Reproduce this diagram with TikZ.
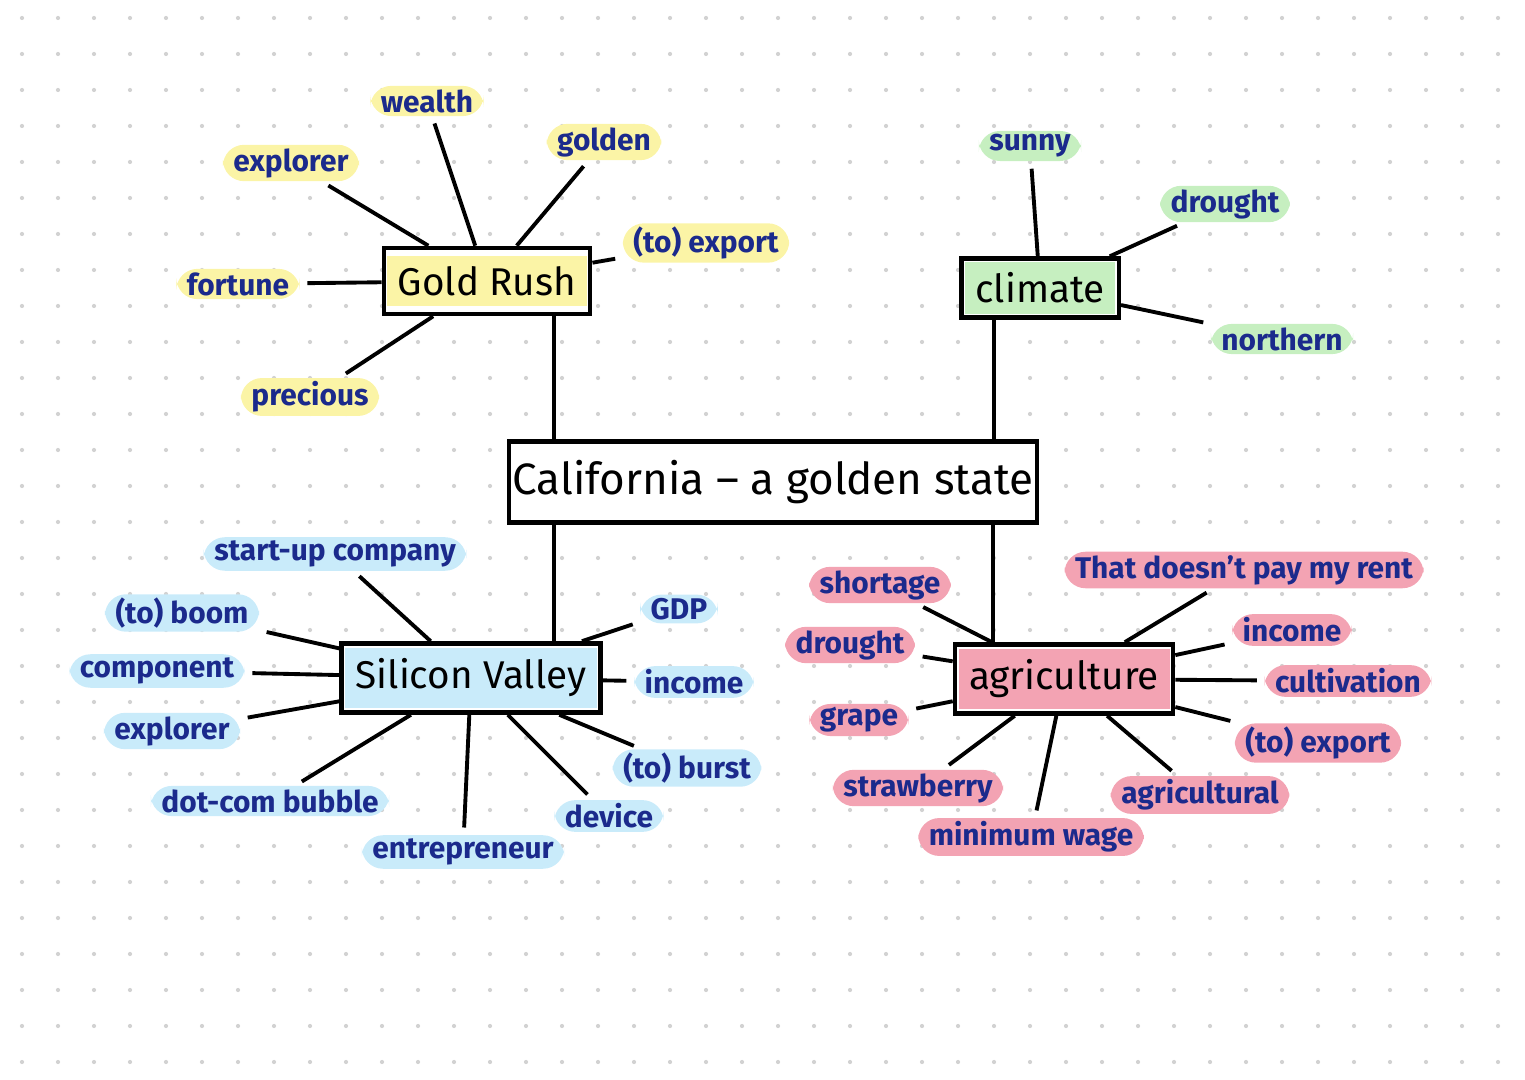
\documentclass[tikz,border=0pt]{standalone}
\usepackage{fontspec}
\setmainfont{Fira Sans}
\usetikzlibrary{positioning}
\definecolor{ink}{HTML}{1B2A8C}
\definecolor{hlyellow}{HTML}{FBF4A6}
\definecolor{hlgreen}{HTML}{C6EFC0}
\definecolor{hlblue}{HTML}{C9EBFA}
\definecolor{hlpink}{HTML}{F3A3B3}
\tikzset{
  topic/.style={draw, line width=1.3pt, fill=white, inner sep=1pt, font=\fontsize{11}{13}\selectfont},
  word/.style={rounded corners=6pt, inner xsep=3pt, inner ysep=1pt, text=ink, font=\fontsize{8.5}{10}\selectfont\bfseries},
  gold/.style={word, fill=hlyellow},
  clim/.style={word, fill=hlgreen},
  silic/.style={word, fill=hlblue},
  agri/.style={word, fill=hlpink},
  link/.style={line width=1.1pt, shorten <=2pt},
}
\begin{document}
\begin{tikzpicture}[x=0.01cm,y=-0.01cm]
	\useasboundingbox (0,0) rectangle (1525,1080);
	% ---------------------
	% dotted paper
	\foreach \i in {0,...,41}{
		\foreach \j in {0,...,29}{
			\fill[gray!35] (22+36*\i,18+36*\j) circle (0.6pt);
		}
	}
	
	% ---------------------
	% Topics
	\node[topic, minimum width=4.93cm, minimum height=0.81cm, font=\fontsize{12.5}{15}\selectfont] (California) at (773,482) {California -- a golden state};
	\node[topic, minimum width=1.96cm, minimum height=0.66cm] (GoldRush) at (487,281) {\colorbox{hlyellow}{Gold Rush}};
	\node[topic, minimum width=1.51cm, minimum height=0.55cm] (Climate) at (1040,288) {\colorbox{hlgreen}{climate}};
	\node[topic, minimum width=2.28cm, minimum height=0.69cm] (Silicon) at (471,678) {\colorbox{hlblue}{Silicon Valley}};
	\node[topic, minimum width=2.02cm, minimum height=0.69cm] (Agri) at (1064,679) {\colorbox{hlpink}{agriculture}};
	
	\draw[line width=1.1pt] (GoldRush.south -| 554,0) -- (California.north -| 554,0);
	\draw[line width=1.1pt] (Climate.south -| 994,0) -- (California.north -| 994,0);
	\draw[line width=1.1pt] (California.south -| 554,0) -- (Silicon.north -| 554,0);
	\draw[line width=1.1pt] (California.south -| 993,0) -- (Agri.north -| 993,0);
	
	% ---------------------
	% Gold Rush
	\node[gold] (wealth) at (427,101) {wealth};
	\node[gold] (explorerA) at (291,163) {explorer};
	\node[gold] (golden) at (604,142) {golden};
	\node[gold] (exportA) at (706,243) {(to) export};
	\node[gold] (fortune) at (238,284) {fortune};
	\node[gold] (precious) at (310,397) {precious};
	\foreach \w in {wealth,explorerA,golden,exportA,fortune,precious}
		\draw[link] (\w) -- (GoldRush);
	
	% ---------------------
	% Climate
	\node[clim] (sunny) at (1030,146) {sunny};
	\node[clim] (droughtA) at (1225,204) {drought};
	\node[clim] (northern) at (1282,339) {northern};
	\foreach \w in {sunny,droughtA,northern}
		\draw[link] (\w) -- (Climate);
	
	% ---------------------
	% Silicon Valley
	\node[silic] (startup) at (335,554) {start-up company};
	\node[silic] (boom) at (182,613) {(to) boom};
	\node[silic] (component) at (157,671) {component};
	\node[silic] (explorerB) at (172,731) {explorer};
	\node[silic] (dotcom) at (270,801) {dot-com bubble};
	\node[silic] (entrepreneur) at (463,852) {entrepreneur};
	\node[silic] (device) at (609,816) {device};
	\node[silic] (burst) at (687,768) {(to) burst};
	\node[silic] (incomeA) at (694,682) {income};
	\node[silic] (GDP) at (679,609) {GDP};
	\foreach \w in {startup,boom,component,explorerB,dotcom,entrepreneur,device,burst,incomeA,GDP}
		\draw[link] (\w) -- (Silicon);
	
	% ---------------------
	% agriculture
	\node[agri] (rent) at (1244,570) {That doesn't pay my rent};
	\node[agri] (shortage) at (880,585) {shortage};
	\node[agri] (droughtB) at (850,645) {drought};
	\node[agri] (grape) at (859,720) {grape};
	\node[agri] (strawberry) at (918,788) {strawberry};
	\node[agri] (minwage) at (1031,837) {minimum wage};
	\node[agri] (agricultural) at (1200,795) {agricultural};
	\node[agri] (exportB) at (1318,743) {(to) export};
	\node[agri] (cultivation) at (1348,681) {cultivation};
	\node[agri] (incomeB) at (1292,630) {income};
	\foreach \w in {rent,shortage,droughtB,grape,strawberry,minwage,agricultural,exportB,cultivation,incomeB}
		\draw[link] (\w) -- (Agri);
\end{tikzpicture}
\end{document}
